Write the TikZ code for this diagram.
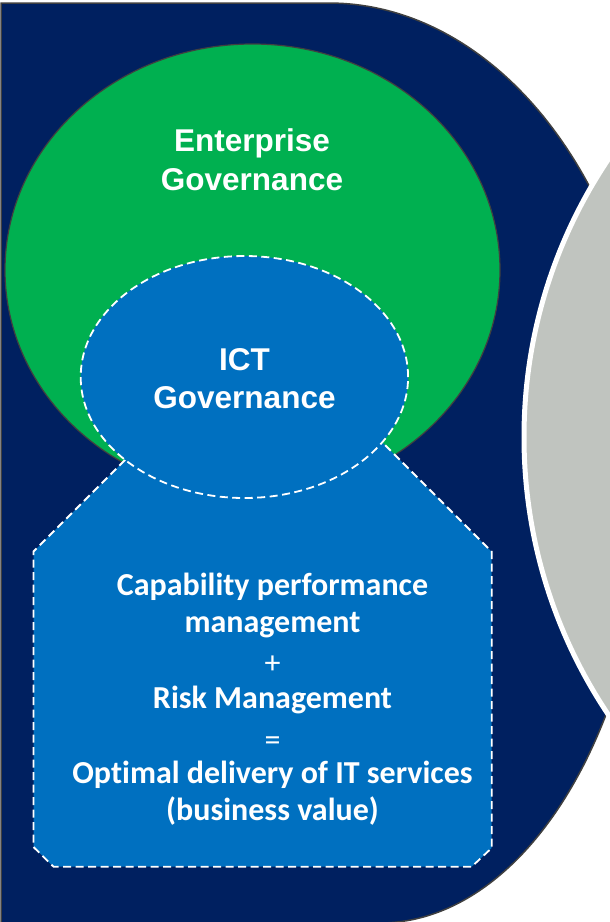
\documentclass[tikz,border=0pt]{standalone}
\usepackage{fontspec}
\setmainfont{Liberation Sans}
\newfontfamily\calibri[Ligatures=NoCommon]{Carlito}
\definecolor{navy}{RGB}{0,32,96}
\definecolor{entgreen}{RGB}{0,176,80}
\definecolor{ictblue}{RGB}{0,112,192}
\definecolor{greyc}{RGB}{192,196,191}
\definecolor{edgegray}{RGB}{64,64,64}
\begin{document}
\begin{tikzpicture}[x=1pt,y=-1pt,
  headtext/.style={text=white,font=\fontsize{31.5}{38}\selectfont\bfseries,inner sep=0pt,anchor=base},
  bodytext/.style={text=white,font=\calibri\fontsize{32}{38}\selectfont\bfseries,inner sep=0pt,anchor=base},
  signtext/.style={text=white,font=\calibri\fontsize{32}{38}\selectfont,inner sep=0pt,anchor=base},
  dashedge/.style={draw=white,line width=1.8pt,dash pattern=on 8pt off 4.5pt}]
\useasboundingbox (0,0) rectangle (610,922);
\clip (0,0) rectangle (610,922);
\fill[white] (0,0) rectangle (610,922);
% navy background shape
\draw[fill=navy,draw=edgegray,line width=1.5pt]
  (1,926) -- (1,3) -- (329,3)
  -- plot[domain=90:0,samples=80] ({329+326*cos(\x)},{463-460*sin(\x)})
  -- plot[domain=0:-90,samples=80] ({380+270*cos(\x)},{463-460*sin(\x)})
  -- (380,926) -- cycle;
% grey circle on the right
\draw[fill=greyc,draw=white,line width=5pt] (1023,437) circle[radius=499pt];
% enterprise governance ellipse
\draw[fill=entgreen,draw=edgegray,line width=1.2pt] (252.5,270) ellipse[x radius=247.5pt,y radius=226pt];
% octagon
\draw[fill=ictblue,dashedge] (125,460) -- (33.5,551.5) -- (33.5,847) -- (53.5,866.7)
  -- (471.7,866.7) -- (491.7,848) -- (491.7,551.7) -- (383.3,443.3) -- cycle;
% ICT ellipse
\draw[fill=ictblue,dashedge] (244.4,377) ellipse[x radius=163.7pt,y radius=121pt];
% texts
\node[headtext] (ent1) at (252,151) {Enterprise};
\node[headtext] (ent2) at (252,190) {Governance};
\node[headtext] (ict1) at (244.5,370) {ICT};
\node[headtext] (ict2) at (244.5,408) {Governance};
\node[bodytext] (t1) at (272.5,595) {Capability performance};
\node[bodytext] (t2) at (272.5,632) {management};
\node[signtext] (t3) at (272.5,673) {+};
\node[bodytext] (t4) at (272.5,708) {Risk Management};
\node[signtext] (t5) at (272.5,750) {=};
\node[bodytext] (t6) at (272.5,783) {Optimal delivery of IT services};
\node[bodytext] (t7) at (272.5,820) {(business value)};
\end{tikzpicture}
\end{document}
